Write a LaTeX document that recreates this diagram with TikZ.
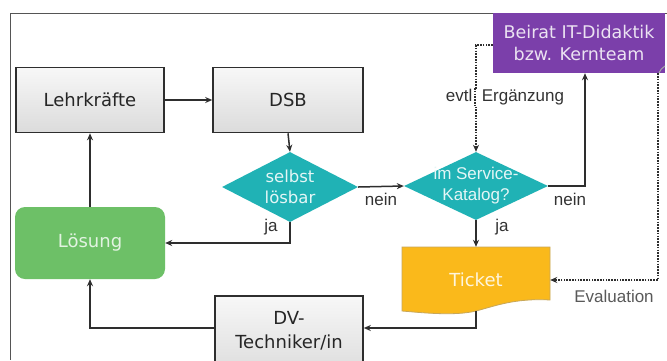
\documentclass[tikz,border=0pt]{standalone}
\usepackage{fontspec}
\setmainfont{DejaVu Sans}
\newfontfamily\labfont{Liberation Sans}
\usetikzlibrary{shapes.geometric,arrows.meta}
\definecolor{linec}{HTML}{2E2E2E}
\definecolor{tealc}{HTML}{20B2B5}
\definecolor{greenc}{HTML}{6DC067}
\definecolor{orangec}{HTML}{FAB91B}
\definecolor{purplec}{HTML}{7B3FAA}
\definecolor{framec}{HTML}{555555}
\tikzset{
  graybox/.style={draw=linec, line width=1.6pt, top color=gray!6, bottom color=gray!28,
    minimum width=148pt, inner sep=0pt, text=black!85, font=\fontsize{18}{22}\selectfont},
  decision/.style={diamond, fill=tealc, inner sep=0pt},
  dtext/.style={align=center, inner sep=0pt, text=white!88!tealc, font=\fontsize{16.5}{21}\selectfont},
  conn/.style={draw=linec, line width=1.5pt, -{Stealth[length=7pt,width=6pt]}},
  dconn/.style={draw=linec, line width=1.4pt, dash pattern=on 1.6pt off 1.2pt, -{Stealth[length=7pt,width=6pt]}},
  lab/.style={font=\labfont\fontsize{17}{20}\selectfont, text=black!80, inner sep=0pt},
}
\begin{document}
\begin{tikzpicture}[x=1pt,y=-1pt]
\useasboundingbox (0,0) rectangle (667,360);
\fill[white] (0,0) rectangle (667,360);
% frame
\draw[framec, line width=1pt] (667,13) -- (10,13) -- (10,360);

% nodes
\node[graybox, minimum height=65pt] (lehr) at (90,100) {Lehrkräfte};
\node[graybox, minimum width=150pt, minimum height=65pt] (dsb) at (288,100) {DSB};
\node[decision, minimum width=136pt, minimum height=70pt] (d1) at (290,187) {};
\node[dtext] (d1t) at (d1.center) {selbst\\lösbar};
\node[decision, minimum width=144pt, minimum height=68pt] (d2) at (476,186) {};
\node[dtext, font=\labfont\fontsize{17}{21}\selectfont] (d2t) at (d2.center) {im Service-\\Katalog?};
\node[fill=greenc, rounded corners=10pt, minimum width=150pt, minimum height=72pt,
  text=white!80!greenc, font=\fontsize{18}{22}\selectfont] (loes) at (90,243) {Lösung};
\node[graybox, minimum height=82pt] (dv) at (289,337) {};
\node[text=black!85, align=center, font=\fontsize{18}{24}\selectfont] (dvtext) at (289,331) {DV-\\Techniker/in};
\node[fill=purplec, minimum width=172pt, minimum height=60pt, inner sep=0pt, align=center,
  text=white!85!purplec, font=\fontsize{17.5}{22}\selectfont] (beirat) at (579,43) {Beirat IT-Didaktik\\bzw. Kernteam};
\draw[gray!70, line width=1pt] (665,66) .. controls (662,68) and (660,70) .. (659,73);

% ticket (document shape)
\fill[orangec] (402,247) -- (550,247) -- (550,300)
  .. controls (515,298) and (495,306) .. (476,311)
  .. controls (455,316) and (425,313) .. (402,311) -- cycle;
\draw[orangec!70!black!70, line width=0.8pt] (402,247) -- (550,247) -- (550,300)
  .. controls (515,298) and (495,306) .. (476,311)
  .. controls (455,316) and (425,313) .. (402,311) -- cycle;
\node[minimum width=148pt, minimum height=66pt, inner sep=0pt, text=white!85!orangec,
  font=\fontsize{18}{22}\selectfont] (ticket) at (476,280) {Ticket};
\coordinate (tb) at (476,311);

% connectors
\draw[conn] (lehr.east) -- (dsb.west);
\draw[conn] (dsb.south) -- (d1.north);
\draw[conn] (d1.east) -- (d2.west);
\draw[conn] (d1.south) |- (loes.east);
\draw[conn] (loes.north) -- (lehr.south);
\draw[conn] ([yshift=9pt]dv.west) -| (loes.south);
\draw[conn] (tb) |- ([yshift=9pt]dv.east);
\draw[conn] (d2.south) -- (ticket.north);
\draw[conn] (d2.east) -| ([xshift=6pt]beirat.south);
\draw[dconn] (beirat.west |- 0,45) -| (d2.north);
\draw[dconn] ([xshift=79pt]beirat.south) |- (ticket.east);

% labels
\node[lab] (l1) at (381,199) {nein};
\node[lab] (l2) at (271,227) {ja};
\node[lab] (l3) at (502,227) {ja};
\node[lab] (l4) at (570,199) {nein};
\node[lab, fill=white, inner xsep=1pt] (l5) at (505,97) {evtl\phantom{.} Ergänzung};
\node[lab, text=black!65] (l6) at (614,296) {Evaluation};
\draw[draw=linec, line width=1.4pt, dash pattern=on 1.6pt off 1.2pt] (475,88) -- (475,106);
\end{tikzpicture}
\end{document}
